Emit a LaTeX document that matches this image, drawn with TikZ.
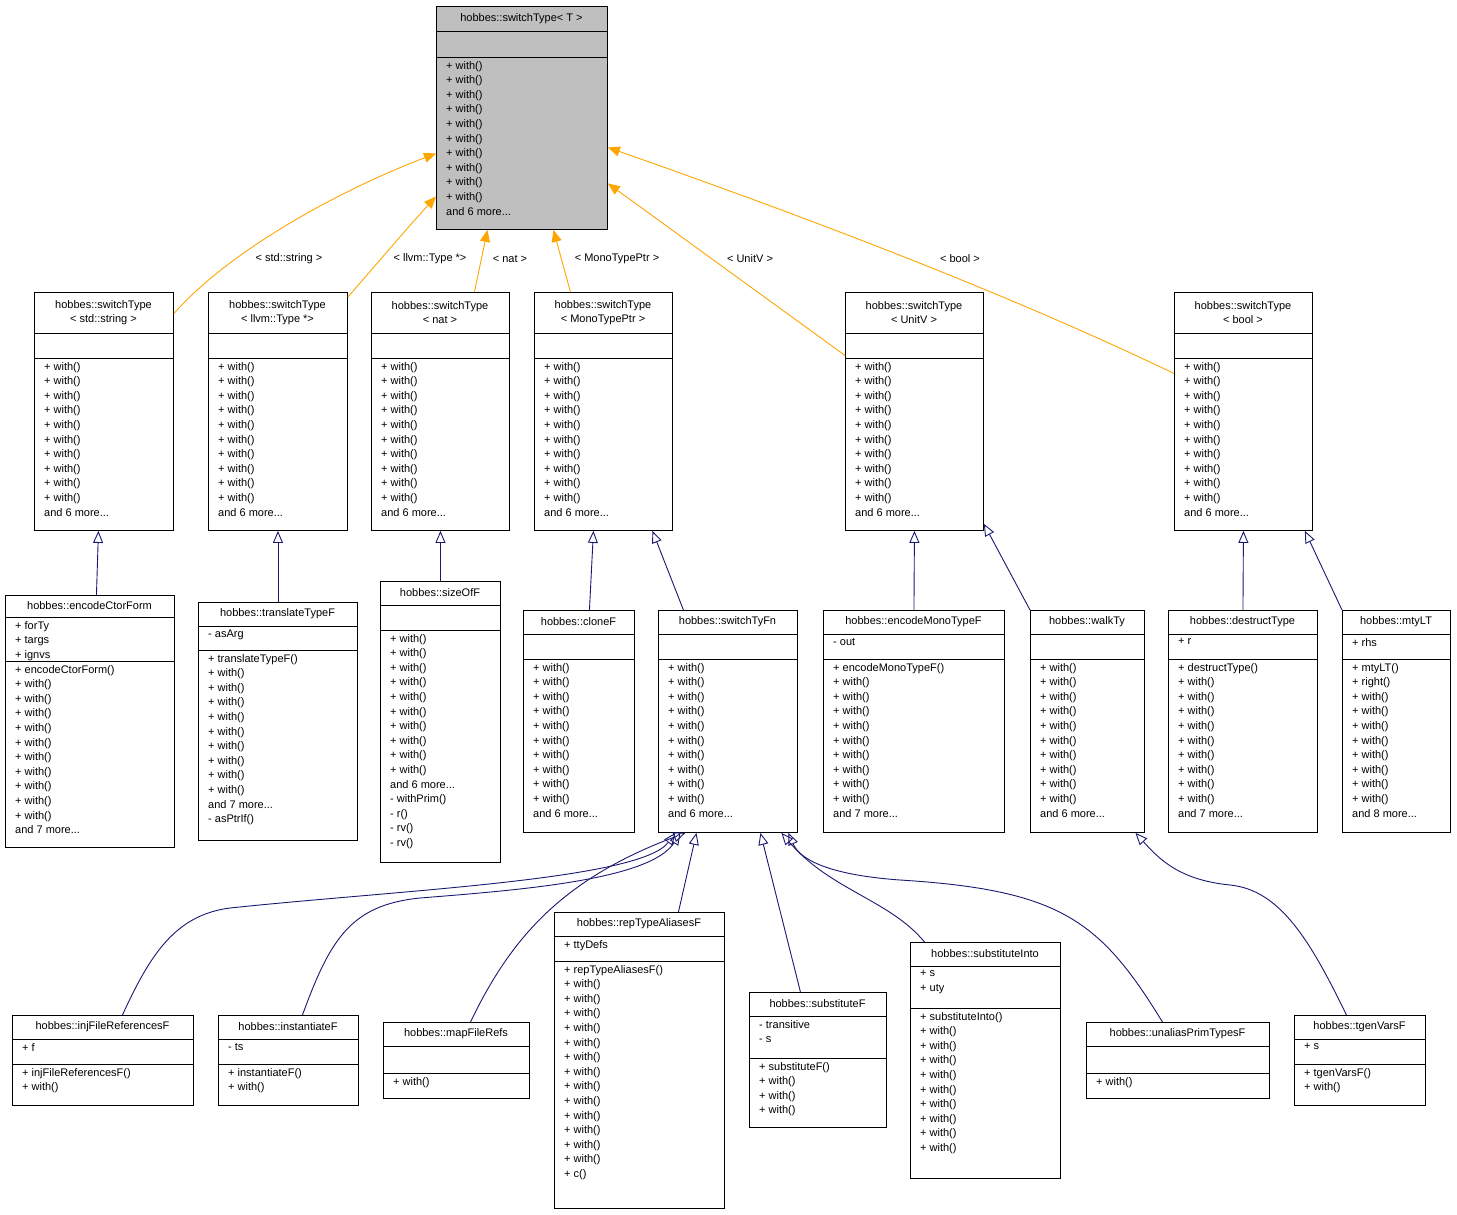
\documentclass[tikz,border=0pt]{standalone}
\usepackage{fontspec}
\setmainfont{Liberation Sans}
\usetikzlibrary{arrows.meta}
\definecolor{navy}{HTML}{191970}
\definecolor{orng}{HTML}{FFA500}
\tikzset{
 box/.style={draw,inner sep=0,line width=0.9},
 ttl/.style={align=center,inner sep=0,font=\fontsize{11}{13.5}\selectfont},
 txt/.style={anchor=north west,align=left,inner xsep=10,inner ysep=4,font=\fontsize{11}{14.6}\selectfont},
 inh/.style={draw=navy,line width=0.9,-{Triangle[open,length=12,width=10]}},
 tmpl/.style={draw=orng,line width=0.9,-{Triangle[fill=orng,length=12,width=10]}},
 lbl/.style={font=\fontsize{11}{13}\selectfont,inner sep=1}
}
% name x w y0 y1 y2 y3 title attrs
\newcommand\cls[9]{%
 \node[box,minimum width=#3,minimum height={#7-#4},anchor=north west] (#1) at (#2,#4) {};
 \draw[line width=0.9] (#2,#5) -- ++(#3,0) (#2,#6) -- ++(#3,0);
 \node[ttl] (#1-t) at ({#2+#3/2},{(#4+#5)/2}) {#8};
 \node[txt] (#1-a) at (#2,#5) {#9};}
\newcommand\mth[3]{\node[txt] at (#1,#2) {#3};}
\newcommand\tw{+ with()\\+ with()\\+ with()\\+ with()\\+ with()\\+ with()\\+ with()\\+ with()\\+ with()\\+ with()}
\begin{document}
\begin{tikzpicture}[x=1pt,y=-1pt]
\useasboundingbox (0,0) rectangle (1457,1215);
% top
\fill[fill={rgb,255:red,191;green,191;blue,191}] (436,6) rectangle (607,229);
\cls{top}{436}{171}{6}{31}{57}{229}{hobbes::switchType< T >}{}
\mth{436}{57}{\tw\\and 6 more...}
% row 2
\cls{std}{34}{139}{292}{333}{358}{530}{hobbes::switchType\\< std::string >}{}
\mth{34}{358}{\tw\\and 6 more...}
\cls{llvm}{208}{139}{292}{333}{358}{530}{hobbes::switchType\\< llvm::Type *>}{}
\mth{208}{358}{\tw\\and 6 more...}
\cls{nat}{371}{138}{292}{333}{358}{530}{hobbes::switchType\\< nat >}{}
\mth{371}{358}{\tw\\and 6 more...}
\cls{mono}{534}{138}{292}{333}{358}{530}{hobbes::switchType\\< MonoTypePtr >}{}
\mth{534}{358}{\tw\\and 6 more...}
\cls{unitv}{845}{138}{292}{333}{358}{530}{hobbes::switchType\\< UnitV >}{}
\mth{845}{358}{\tw\\and 6 more...}
\cls{bool}{1174}{138}{292}{333}{358}{530}{hobbes::switchType\\< bool >}{}
\mth{1174}{358}{\tw\\and 6 more...}
% row 3
\cls{enc}{5}{169}{595}{617}{661}{847}{hobbes::encodeCtorForm}{+ forTy\\+ targs\\+ ignvs}
\mth{5}{661}{+ encodeCtorForm()\\\tw\\and 7 more...}
\cls{trans}{198}{159}{602}{626}{650}{840}{hobbes::translateTypeF}{- asArg}
\mth{198}{650}{+ translateTypeF()\\+ with()\\+ with()\\+ with()\\+ with()\\+ with()\\+ with()\\+ with()\\+ with()\\+ with()\\and 7 more...\\- asPtrIf()}
\cls{size}{380}{120}{581}{605}{630}{862}{hobbes::sizeOfF}{}
\mth{380}{630}{\tw\\and 6 more...\\- withPrim()\\- r()\\- rv()\\- rv()}
\cls{clone}{523}{111}{610}{634}{659}{832}{hobbes::cloneF}{}
\mth{523}{659}{\tw\\and 6 more...}
\cls{stf}{658}{139}{610}{634}{659}{832}{hobbes::switchTyFn}{}
\mth{658}{659}{\tw\\and 6 more...}
\cls{emt}{823}{181}{610}{634}{659}{832}{hobbes::encodeMonoTypeF}{- out}
\mth{823}{659}{+ encodeMonoTypeF()\\+ with()\\+ with()\\+ with()\\+ with()\\+ with()\\+ with()\\+ with()\\+ with()\\+ with()\\and 7 more...}
\cls{walk}{1030}{114}{610}{634}{659}{832}{hobbes::walkTy}{}
\mth{1030}{659}{\tw\\and 6 more...}
\cls{destr}{1168}{149}{610}{634}{659}{832}{hobbes::destructType}{+ r}
\mth{1168}{659}{+ destructType()\\+ with()\\+ with()\\+ with()\\+ with()\\+ with()\\+ with()\\+ with()\\+ with()\\+ with()\\and 7 more...}
\cls{mty}{1342}{108}{610}{634}{659}{832}{hobbes::mtyLT}{+ rhs}
\mth{1342}{659}{+ mtyLT()\\+ right()\\+ with()\\+ with()\\+ with()\\+ with()\\+ with()\\+ with()\\+ with()\\+ with()\\and 8 more...}
% row 4
\cls{inj}{12}{181}{1015}{1039}{1064}{1105}{hobbes::injFileReferencesF}{+ f}
\mth{12}{1064}{+ injFileReferencesF()\\+ with()}
\cls{inst}{218}{140}{1015}{1039}{1064}{1105}{hobbes::instantiateF}{- ts}
\mth{218}{1064}{+ instantiateF()\\+ with()}
\cls{mapf}{383}{146}{1022}{1046}{1073}{1098}{hobbes::mapFileRefs}{}
\mth{383}{1073}{+ with()}
\cls{rep}{554}{170}{912}{936}{961}{1208}{hobbes::repTypeAliasesF}{+ ttyDefs}
\mth{554}{961}{+ repTypeAliasesF()\\\tw\\+ with()\\+ with()\\+ with()\\+ c()}
\cls{subf}{749}{137}{992}{1016}{1058}{1127}{hobbes::substituteF}{- transitive\\- s}
\mth{749}{1058}{+ substituteF()\\+ with()\\+ with()\\+ with()}
\cls{subi}{910}{150}{942}{966}{1008}{1178}{hobbes::substituteInto}{+ s\\+ uty}
\mth{910}{1008}{+ substituteInto()\\+ with()\\+ with()\\+ with()\\+ with()\\+ with()\\+ with()\\+ with()\\+ with()\\+ with()}
\cls{unal}{1086}{183}{1022}{1046}{1073}{1098}{hobbes::unaliasPrimTypesF}{}
\mth{1086}{1073}{+ with()}
\cls{tgen}{1294}{131}{1015}{1039}{1064}{1105}{hobbes::tgenVarsF}{+ s}
\mth{1294}{1064}{+ tgenVarsF()\\+ with()}
% template edges
\draw[tmpl] ([yshift=98]std.east) .. controls (230,250) and (340,190) .. ([yshift=-35.5]top.west);
\draw[tmpl] ([yshift=-5]llvm.north east) .. controls (380,260) and (410,225) .. ([yshift=-78.5]top.west);
\draw[tmpl] ([xshift=34]nat.north) -- ([xshift=-34.5]top.south);
\draw[tmpl] ([xshift=-33]mono.north) -- ([xshift=31.5]top.south);
\draw[tmpl] ([yshift=56]unitv.west) -- ([yshift=-65.5]top.east);
\draw[tmpl] ([yshift=38]bool.west) .. controls (1000,290) and (800,215) .. ([yshift=-29.5]top.east);
\node[lbl] at (289,259) {< std::string >};
\node[lbl] at (430,259) {< llvm::Type *>};
\node[lbl] at (510,259) {< nat >};
\node[lbl] at (617,259) {< MonoTypePtr >};
\node[lbl] at (750,259) {< UnitV >};
\node[lbl] at (960,259) {< bool >};
% inheritance
\draw[inh] ([xshift=6.5]enc.north) -- ([xshift=-5.5]std.south);
\draw[inh] (trans.north) -- (llvm.south);
\draw[inh] (size.north) -- (nat.south);
\draw[inh] ([xshift=10.5]clone.north) -- ([xshift=-10]mono.south);
\draw[inh] ([xshift=-44.5]stf.north) -- ([xshift=49]mono.south);
\draw[inh] (emt.north) -- (unitv.south);
\draw[inh] (walk.north west) -- ([yshift=7]unitv.south east);
\draw[inh] (destr.north) -- (bool.south);
\draw[inh] (mty.north west) -- ([xshift=-8]bool.south east);
\draw[inh] ([xshift=19.5]inj.north) .. controls (150,955) and (175,915) .. (230,908) .. controls (400,890) and (640,880) .. ([xshift=-52.5]stf.south);
\draw[inh] ([xshift=14]inst.north) .. controls (330,940) and (350,905) .. (420,898) .. controls (520,890) and (650,880) .. ([xshift=-47.5]stf.south);
\draw[inh] ([xshift=14]mapf.north) .. controls (510,940) and (560,880) .. ([xshift=-42.5]stf.south);
\draw[inh] ([xshift=39]rep.north) -- ([xshift=-31.5]stf.south);
\draw[inh] ([xshift=-17.5]subf.north) -- ([xshift=32.5]stf.south);
\draw[inh] ([xshift=-61]subi.north) .. controls (890,900) and (830,890) .. ([xshift=53.5]stf.south);
\draw[inh] ([xshift=-15.5]unal.north) .. controls (1100,920) and (1060,890) .. (900,880) .. controls (830,875) and (800,860) .. ([xshift=60.5]stf.south);
\draw[inh] ([xshift=-13.5]tgen.north) .. controls (1310,940) and (1280,890) .. (1230,885) .. controls (1180,880) and (1160,860) .. ([xshift=48]walk.south);
\end{tikzpicture}
\end{document}
